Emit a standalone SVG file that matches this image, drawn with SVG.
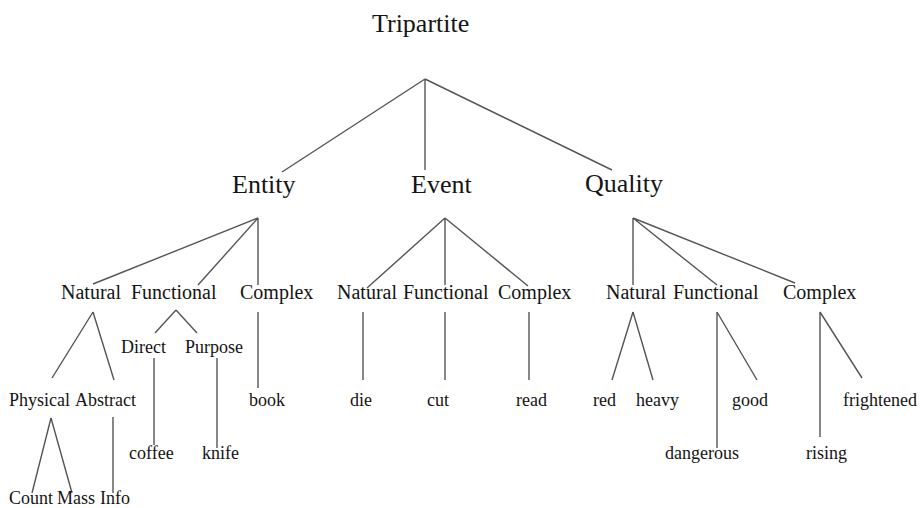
<svg xmlns="http://www.w3.org/2000/svg" width="920" height="508" viewBox="0 0 920 508">
<style>
  text { font-family: "Liberation Serif", "Times New Roman", serif; fill: #141414; }
  .l1 { font-size: 26px; }
  .l2 { font-size: 20px; }
  .l3 { font-size: 18px; }
  #connectors path { stroke: #555; stroke-width: 1.4; fill: none; }
</style>
<rect width="920" height="508" fill="#ffffff"/>
<g id="connectors">
  <path d="M425,79 L282,172 M425,79 L425,170 M425,79 L612,170"/>
  <path d="M258,218 L93,284 M258,218 L198,285 M258,218 L258,285"/>
  <path d="M258,312 L258,388"/>
  <path d="M93,312 L52,378 M93,312 L114,380"/>
  <path d="M176,310 L155,333 M176,310 L197,333"/>
  <path d="M154,358 L154,445 M217,358 L217,448"/>
  <path d="M51,418 L32,493 M51,418 L72,493 M113,417 L113,493"/>
  <path d="M445,218 L367,288 M445,218 L445,285 M445,218 L528,286"/>
  <path d="M363,312 L363,380 M445,312 L445,380 M529,312 L529,380"/>
  <path d="M633,218 L633,285 M633,218 L717,285 M633,218 L795,283"/>
  <path d="M633,312 L612,380 M633,312 L653,380"/>
  <path d="M717,312 L717,448 M717,312 L757,380"/>
  <path d="M820,312 L820,437 M820,312 L862,378"/>
</g>
<g id="tripartite"><text class="l1" x="372" y="32">Tripartite</text></g>
<g id="entity"><text class="l1" x="232" y="193">Entity</text></g>
<g id="event"><text class="l1" x="411" y="193">Event</text></g>
<g id="quality"><text class="l1" x="585" y="192">Quality</text></g>
<g id="entity-natural"><text class="l2" x="61" y="299">Natural</text></g>
<g id="entity-functional"><text class="l2" x="131" y="299">Functional</text></g>
<g id="entity-complex"><text class="l2" x="240" y="299">Complex</text></g>
<g id="event-natural"><text class="l2" x="337" y="299">Natural</text></g>
<g id="event-functional"><text class="l2" x="403" y="299">Functional</text></g>
<g id="event-complex"><text class="l2" x="498" y="299">Complex</text></g>
<g id="quality-natural"><text class="l2" x="606" y="299">Natural</text></g>
<g id="quality-functional"><text class="l2" x="673" y="299">Functional</text></g>
<g id="quality-complex"><text class="l2" x="783" y="299">Complex</text></g>
<g id="direct"><text class="l3" x="121" y="353">Direct</text></g>
<g id="purpose"><text class="l3" x="185" y="353">Purpose</text></g>
<g id="physical"><text class="l3" x="9" y="406">Physical</text></g>
<g id="abstract"><text class="l3" x="75" y="406">Abstract</text></g>
<g id="book"><text class="l3" x="249" y="406">book</text></g>
<g id="die"><text class="l3" x="350" y="406">die</text></g>
<g id="cut"><text class="l3" x="427" y="406">cut</text></g>
<g id="read"><text class="l3" x="516" y="406">read</text></g>
<g id="red"><text class="l3" x="593" y="406">red</text></g>
<g id="heavy"><text class="l3" x="636" y="406">heavy</text></g>
<g id="good"><text class="l3" x="732" y="406">good</text></g>
<g id="frightened"><text class="l3" x="843" y="406">frightened</text></g>
<g id="coffee"><text class="l3" x="129" y="459">coffee</text></g>
<g id="knife"><text class="l3" x="202" y="459">knife</text></g>
<g id="dangerous"><text class="l3" x="665" y="459">dangerous</text></g>
<g id="rising"><text class="l3" x="806" y="459">rising</text></g>
<g id="count"><text class="l3" x="9" y="504">Count</text></g>
<g id="mass"><text class="l3" x="57" y="504">Mass</text></g>
<g id="info"><text class="l3" x="100" y="504">Info</text></g>
</svg>
